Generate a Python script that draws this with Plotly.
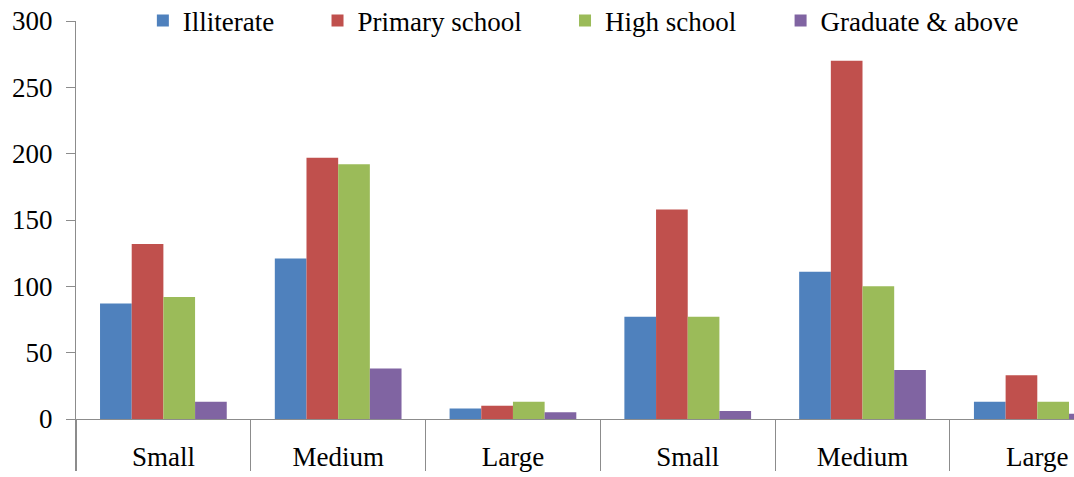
import plotly.graph_objects as go

# Farm-size groups (two blocks of Small / Medium / Large)
categories = ["Small", "Medium", "Large", "Small", "Medium", "Large"]

# Number of respondents by education level
illiterate = [87, 121, 8, 77, 111, 13]
primary_school = [132, 197, 10, 158, 270, 33]
high_school = [92, 192, 13, 77, 100, 13]
graduate_above = [13, 38, 5, 6, 37, 4]

series_names = ["Illiterate", "Primary school", "High school", "Graduate & above"]
series_values = [illiterate, primary_school, high_school, graduate_above]
colors = ["#4F81BD", "#C0504D", "#9BBB59", "#8064A2"]
y_ticks = [0, 50, 100, 150, 200, 250, 300]

FONT = "'Liberation Serif', 'Times New Roman', 'DejaVu Serif', serif"
FONT_SIZE = 27
AXIS_GREY = "#8C8C8C"

positions = list(range(len(categories)))
legend_ids = ["legend", "legend2", "legend3", "legend4"]
legend_x = [0.067, 0.242, 0.490, 0.706]

fig = go.Figure()
for name, vals, col, lid in zip(series_names, series_values, colors, legend_ids):
    fig.add_trace(go.Bar(
        x=positions, y=vals, name=name,
        marker=dict(color=col, line=dict(width=0)),
        legend=lid,
    ))

legend_style = dict(
    orientation="h", yanchor="middle", y=1.0, xanchor="left",
    font=dict(family=FONT, size=FONT_SIZE, color="black"),
    bgcolor="rgba(0,0,0,0)", borderwidth=0, itemwidth=30,
)
layout_legends = {}
for lid, lx in zip(legend_ids, legend_x):
    layout_legends[lid] = dict(legend_style, x=lx)

fig.update_layout(
    width=1074, height=477,
    margin=dict(l=76, r=0, t=21, b=6, autoexpand=False),
    paper_bgcolor="white", plot_bgcolor="white",
    barmode="group", bargap=0.275, bargroupgap=0,
    showlegend=True,
    font=dict(family=FONT, size=FONT_SIZE, color="black"),
    xaxis=dict(
        range=[-0.5, 5.21],
        tickmode="array", tickvals=positions, ticktext=categories,
        ticks="", showline=False, showgrid=False, zeroline=False,
        ticklabelposition="inside", ticklabelstandoff=-3,
        tickfont=dict(family=FONT, size=FONT_SIZE, color="black"),
        minor=dict(tickmode="array",
                   tickvals=[p - 0.5 for p in positions] + [positions[-1] + 0.5],
                   ticks="inside", ticklen=52, tickcolor=AXIS_GREY, tickwidth=1,
                   showgrid=False),
    ),
    yaxis=dict(
        range=[-39.2, 300],
        tickmode="array", tickvals=y_ticks,
        ticks="outside", ticklen=9, tickcolor=AXIS_GREY, tickwidth=1,
        showline=True, linecolor=AXIS_GREY, linewidth=1,
        showgrid=False,
        zeroline=True, zerolinecolor=AXIS_GREY, zerolinewidth=1,
        ticklabelstandoff=8,
        tickfont=dict(family=FONT, size=FONT_SIZE, color="black"),
    ),
    **layout_legends,
)

fig.write_html("out.html")
